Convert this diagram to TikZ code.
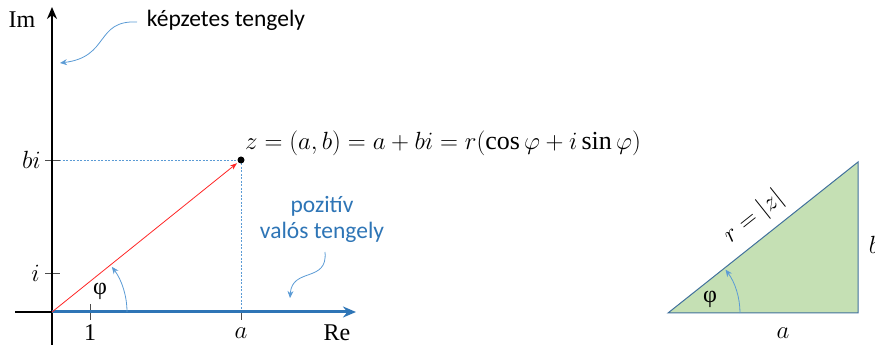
\documentclass[tikz,border=0pt]{standalone}
\usepackage{fontspec}
\setmainfont{Liberation Serif}
\newfontfamily\calibri{Carlito}
\usetikzlibrary{arrows.meta}
\definecolor{axblue}{HTML}{2E75B6}
\definecolor{lblue}{HTML}{5B9BD5}
\definecolor{trigreen}{HTML}{C5E0B4}
\definecolor{triedge}{HTML}{41719C}
\tikzset{
  lbl/.style={font=\fontsize{24}{28}\selectfont, inner sep=0pt},
  sans/.style={font=\calibri\fontsize{23.5}{28}\selectfont, inner sep=0pt},
  tick/.style={draw=black!70, line width=0.8pt},
  guide/.style={draw=lblue, dashed, dash pattern=on 2pt off 1.5pt, line width=0.5pt},
  callout/.style={draw=lblue, line width=0.8pt, -{Stealth[length=7pt,width=6pt]}},
  anglearc/.style={draw=lblue, line width=0.8pt, -{Stealth[length=7pt,width=6pt]}}
}
\begin{document}
\begin{tikzpicture}[x=1pt,y=1pt]
\useasboundingbox (0,0) rectangle (875,345);
\clip (0,0) rectangle (875,345);
% coordinates
\coordinate (O) at (52,33);
\coordinate (P) at (241,185);
\coordinate (imbot) at (52,0);
\coordinate (imtop) at (52,338);
\coordinate (releft) at (15,33);
\coordinate (retip) at (356,33);
\coordinate (bitick) at (52,185);
\coordinate (itick) at (52,72);
\coordinate (onetick) at (90,33);
\coordinate (atick) at (241,33);
% guides
\draw[guide] (bitick) -- (P);
\draw[guide] (P) -- (atick);
% ticks
\draw[tick] ([xshift=-7pt]bitick) -- ([xshift=8pt]bitick);
\draw[tick] ([xshift=-7pt]itick) -- ([xshift=8pt]itick);
\draw[tick] ([yshift=-8pt]onetick) -- ([yshift=8pt]onetick);
\draw[tick] ([yshift=-8pt]atick) -- (atick);
% axes
\draw[line width=2.2pt] (releft) -- (O);
\draw[line width=2.2pt, -{Stealth[length=12pt,width=10pt]}] (imbot) -- (imtop);
\draw[axblue, line width=3pt, -{Stealth[length=13pt,width=11pt]}] (O) -- (retip);
% vector
\draw[red!85!white, line width=0.8pt, -{Stealth[length=7pt,width=5pt]}] (O) -- ([shift={(-4pt,-3.2pt)}]P);
\fill (P) circle (3.5pt);
% angle
\draw[anglearc] (127,33) arc[start angle=0, end angle=37, radius=75];
\node[lbl] (phi1) at (100,54) {φ};
% labels
\node[lbl, anchor=east] (bilbl) at (41,185) {$bi$};
\node[lbl, anchor=east] (ilbl) at (40,72) {$i$};
\node[lbl] (onelbl) at (90,12) {1};
\node[lbl] (albl) at (241,12) {$a$};
\node[lbl] (relbl) at (337,12) {Re};
\node[lbl] (imlbl) at (22,325) {Im};
% formula
\node[lbl, font=\fontsize{26}{30}\selectfont, anchor=west] (formula) at (245,202) {$z=(a,b)=a+bi=r(\cos\varphi+i\sin\varphi)$};
% callouts
\node[sans] (imag) at (226,325) {képzetes tengely};
\coordinate (imagstart) at (137,323);
\coordinate (imagend) at (60,282);
\draw[callout] (imagstart) .. controls (95,325) and (110,288) .. (imagend);
\node[sans, text=axblue, align=center] (pos) at (322,126) {pozitív\\[-2pt]valós tengely};
\coordinate (posstart) at (325,93);
\coordinate (posend) at (290,47);
\draw[callout] (posstart) .. controls (328,62) and (292,78) .. (posend);
% triangle
\coordinate (A) at (668,32);
\coordinate (B) at (858,32);
\coordinate (C) at (858,183);
\draw[fill=trigreen, draw=triedge, line width=1pt] (A) -- (B) -- (C) -- cycle;
\draw[anglearc] (740,32) arc[start angle=0, end angle=37, radius=72];
\node[lbl] (phi2) at (710,46) {φ};
\node[lbl, rotate=38.5] (rlbl) at (754,128) {$r=|z|$};
\node[lbl] (a2) at (783,12) {$a$};
\node[lbl] (b2) at (874,100) {$b$};
\end{tikzpicture}
\end{document}
